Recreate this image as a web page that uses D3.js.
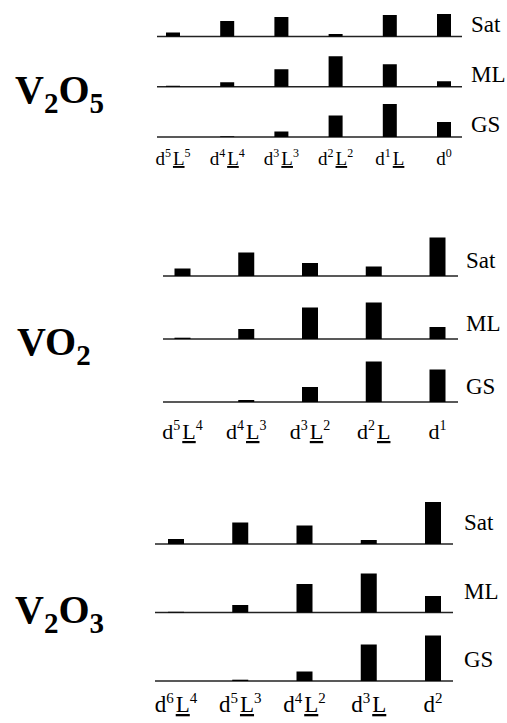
<!DOCTYPE html>
<html><head><meta charset="utf-8">
<script src="https://cdn.jsdelivr.net/npm/d3@7"></script>
<style>body{margin:0;background:#fff}svg{display:block}</style>
</head><body>
<svg id="c" width="507" height="723"></svg>
<script>
// ---- data (relative weights of configurations) ----
const rowNames = ["Sat", "ML", "GS"];

const v2o5Cats = ["d5L5", "d4L4", "d3L3", "d2L2", "d1L", "d0"];
const v2o5Sat = [4, 15.5, 19.5, 2.5, 21.5, 22.5];
const v2o5ML  = [1, 4.5, 17.5, 30.5, 22.5, 5.5];
const v2o5GS  = [0, 0.7, 5.5, 21.5, 33, 15];

const vo2Cats = ["d5L4", "d4L3", "d3L2", "d2L", "d1"];
const vo2Sat = [7.5, 23.5, 13, 9.5, 38.5];
const vo2ML  = [1.3, 10, 31.5, 36.5, 12];
const vo2GS  = [0, 2, 15, 40.5, 32.5];

const v2o3Cats = ["d6L4", "d5L3", "d4L2", "d3L", "d2"];
const v2o3Sat = [5, 21.5, 18.5, 4, 42];
const v2o3ML  = [0.7, 7.5, 28.5, 39, 16.5];
const v2o3GS  = [0, 1.3, 9.5, 36.5, 45.5];

// ---- layout ----
const panels = [
  {title: [["V",""],["2","sub"],["O",""],["5","sub"]], tx: 15, ty: 103,
   cats: v2o5Cats, series: [v2o5Sat, v2o5ML, v2o5GS],
   x0: 173, x1: 444, lineX: [157, 462], rows: [36.5, 137], bw: 14,
   labX: 471, labDy: -5, catY: 165, catSize: 19, rowSize: 23},
  {title: [["V",""],["O",""],["2","sub"]], tx: 17, ty: 355,
   cats: vo2Cats, series: [vo2Sat, vo2ML, vo2GS],
   x0: 182.5, x1: 437.5, lineX: [163, 458], rows: [276, 402], bw: 16,
   labX: 466, labDy: -8, catY: 439, catSize: 22, rowSize: 23},
  {title: [["V",""],["2","sub"],["O",""],["3","sub"]], tx: 15, ty: 623,
   cats: v2o3Cats, series: [v2o3Sat, v2o3ML, v2o3GS],
   x0: 176, x1: 433, lineX: [155, 453], rows: [544, 681], bw: 16,
   labX: 464, labDy: -14, catY: 712, catSize: 23, rowSize: 23}
];

const svg = d3.select("#c");
const FONT = '"Liberation Serif"';

panels.forEach(p => {
  const g = svg.append("g");
  const x = d3.scalePoint().domain(p.cats).range([p.x0, p.x1]);
  const row = d3.scalePoint().domain(rowNames).range(p.rows);
  const h = d3.scaleLinear().domain([0, 50]).range([0, 50]);

  // title
  const t = g.append("text").attr("x", p.tx).attr("y", p.ty)
    .style("font-family", FONT).attr("font-weight", "bold").attr("font-size", 40);
  let off = 0;
  p.title.forEach(([s, kind]) => {
    const target = kind === "sub" ? 10 : 0;
    const ts = t.append("tspan").text(s).attr("dy", target - off);
    if (kind === "sub") ts.attr("font-size", 29);
    off = target;
  });

  rowNames.forEach((rn, ri) => {
    const y0 = row(rn);
    g.append("line").attr("x1", p.lineX[0]).attr("x2", p.lineX[1])
      .attr("y1", y0).attr("y2", y0).attr("stroke", "#222").attr("stroke-width", 1.3);
    g.selectAll(null).data(p.series[ri]).join("rect")
      .attr("x", (d, i) => x(p.cats[i]) - p.bw / 2)
      .attr("width", p.bw)
      .attr("y", d => y0 - h(d))
      .attr("height", d => h(d))
      .attr("fill", "#000");
    g.append("text").attr("x", p.labX).attr("y", y0 + p.labDy)
      .style("font-family", FONT).attr("font-size", p.rowSize).text(rn);
  });

  // category labels: d^n L^m with underlined L
  p.cats.forEach(c => {
    const m = c.match(/d(\d)(L)?(\d)?/);
    const txt = g.append("text").attr("x", x(c)).attr("y", p.catY)
      .style("font-family", FONT)
      .attr("text-anchor", "middle").attr("font-size", p.catSize);
    const sup = Math.round(p.catSize * 0.65);
    const rise = Math.round(p.catSize * 0.4);
    txt.append("tspan").text("d");
    txt.append("tspan").text(m[1]).attr("font-size", sup).attr("dy", -rise);
    if (m[2]) {
      txt.append("tspan").text("L").attr("dy", rise).attr("dx", 2)
        .attr("text-decoration", "underline");
      if (m[3]) txt.append("tspan").text(m[3]).attr("font-size", sup).attr("dy", -rise);
    }
  });
});
</script>
</body></html>
